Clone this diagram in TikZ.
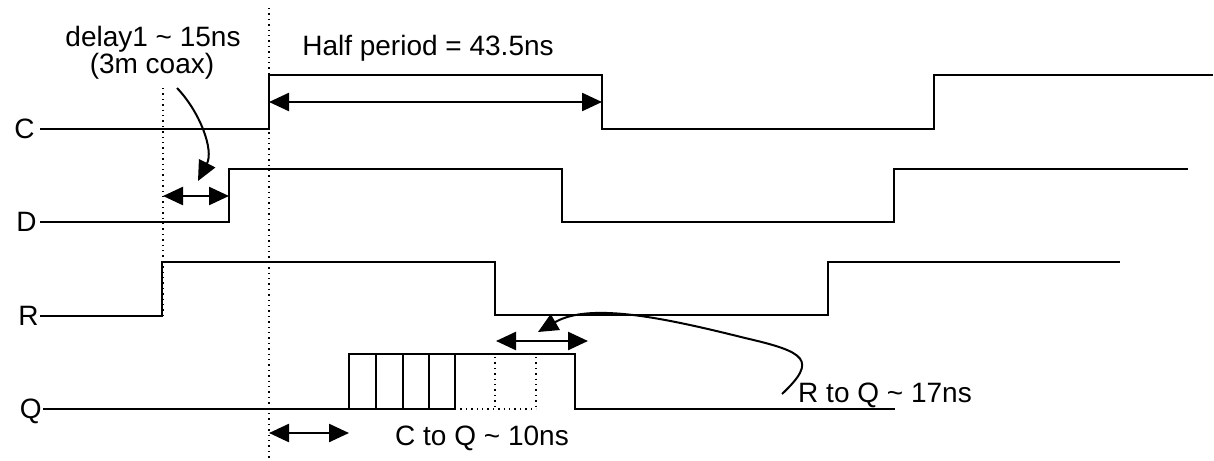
\documentclass[tikz,border=0pt]{standalone}
\usepackage{fontspec}
\setmainfont{Liberation Sans}
\usetikzlibrary{arrows.meta}
\begin{document}
\begin{tikzpicture}[x=0.5pt,y=-0.5pt,
  sig/.style={line width=1.2pt,line join=miter},
  guide/.style={line width=0.7pt,dotted},
  dim/.style={line width=1.2pt,{Triangle[length=10pt,width=9pt]}-{Triangle[length=10pt,width=9pt]}},
  pointer/.style={line width=1pt,-{Triangle[length=10pt,width=9pt]}},
  txt/.style={inner sep=0pt,font=\fontsize{14}{16}\selectfont},
  lbl/.style={txt,anchor=base east}]
\useasboundingbox (0,0) rectangle (1214,460);
% guides
\draw[guide] (163,88) -- (163,316);
\draw[guide] (269,8) -- (269,460);
% signals
\node[lbl] (lC) at (35,138) {C};
\draw[sig] (40,129) -- (269,129) -- (269,75) -- (602,75) -- (602,129) -- (934,129) -- (934,75) -- (1213,75);
\node[lbl] (lD) at (37,231) {D};
\draw[sig] (40,222) -- (229,222) -- (229,169) -- (562,169) -- (562,222) -- (894,222) -- (894,169) -- (1188,169);
\node[lbl] (lR) at (39,325) {R};
\draw[sig] (40,316) -- (162,316) -- (162,262) -- (495,262) -- (495,315) -- (828,315) -- (828,262) -- (1120,262);
\node[lbl] (lQ) at (42,418) {Q};
\draw[sig] (43,409) -- (349,409) -- (349,354) -- (575,354) -- (575,409) -- (895,409);
\draw[sig] (349,409) -- (455,409);
\foreach \x in {376,403,429,455} \draw[sig] (\x,354) -- (\x,409);
\draw[guide] (455,409) -- (536,409);
\draw[guide] (495,357) -- (495,409);
\draw[guide] (536,357) -- (536,409);
% dimension arrows
\coordinate (d1a) at (163,196); \coordinate (d1b) at (229,196);
\draw[dim] (d1a) -- (d1b);
\coordinate (hpa) at (269,102); \coordinate (hpb) at (602,102);
\draw[dim] (hpa) -- (hpb);
\coordinate (cqa) at (269,433); \coordinate (cqb) at (349,433);
\draw[dim] (cqa) -- (cqb);
\coordinate (rqa) at (496,341); \coordinate (rqb) at (588,341);
\draw[dim] (rqa) -- (rqb);
% texts
\node[txt,anchor=base] (t1) at (153,47) {delay1 \char`\~{} 15ns};
\node[txt,anchor=base] (t2) at (152,74) {(3m coax)};
\node[txt,anchor=base] (t3) at (428,56) {Half period = 43.5ns};
\node[txt,anchor=base] (t4) at (482,445) {C to Q \char`\~{} 10ns};
\node[txt,anchor=base] (t5) at (885,402) {R to Q \char`\~{} 17ns};
% pointers
\coordinate (p1s) at (177,88); \coordinate (p1e) at (198,181);
\draw[pointer] (p1s) .. controls (200,112) and (214,150) .. (p1e);
\coordinate (p2s) at (782,394); \coordinate (p2m) at (745,338); \coordinate (p2e) at (538,332);
\draw[pointer] (p2s) .. controls (818,360) and (806,352) .. (p2m) .. controls (665,318) and (590,302) .. (p2e);
\end{tikzpicture}
\end{document}
